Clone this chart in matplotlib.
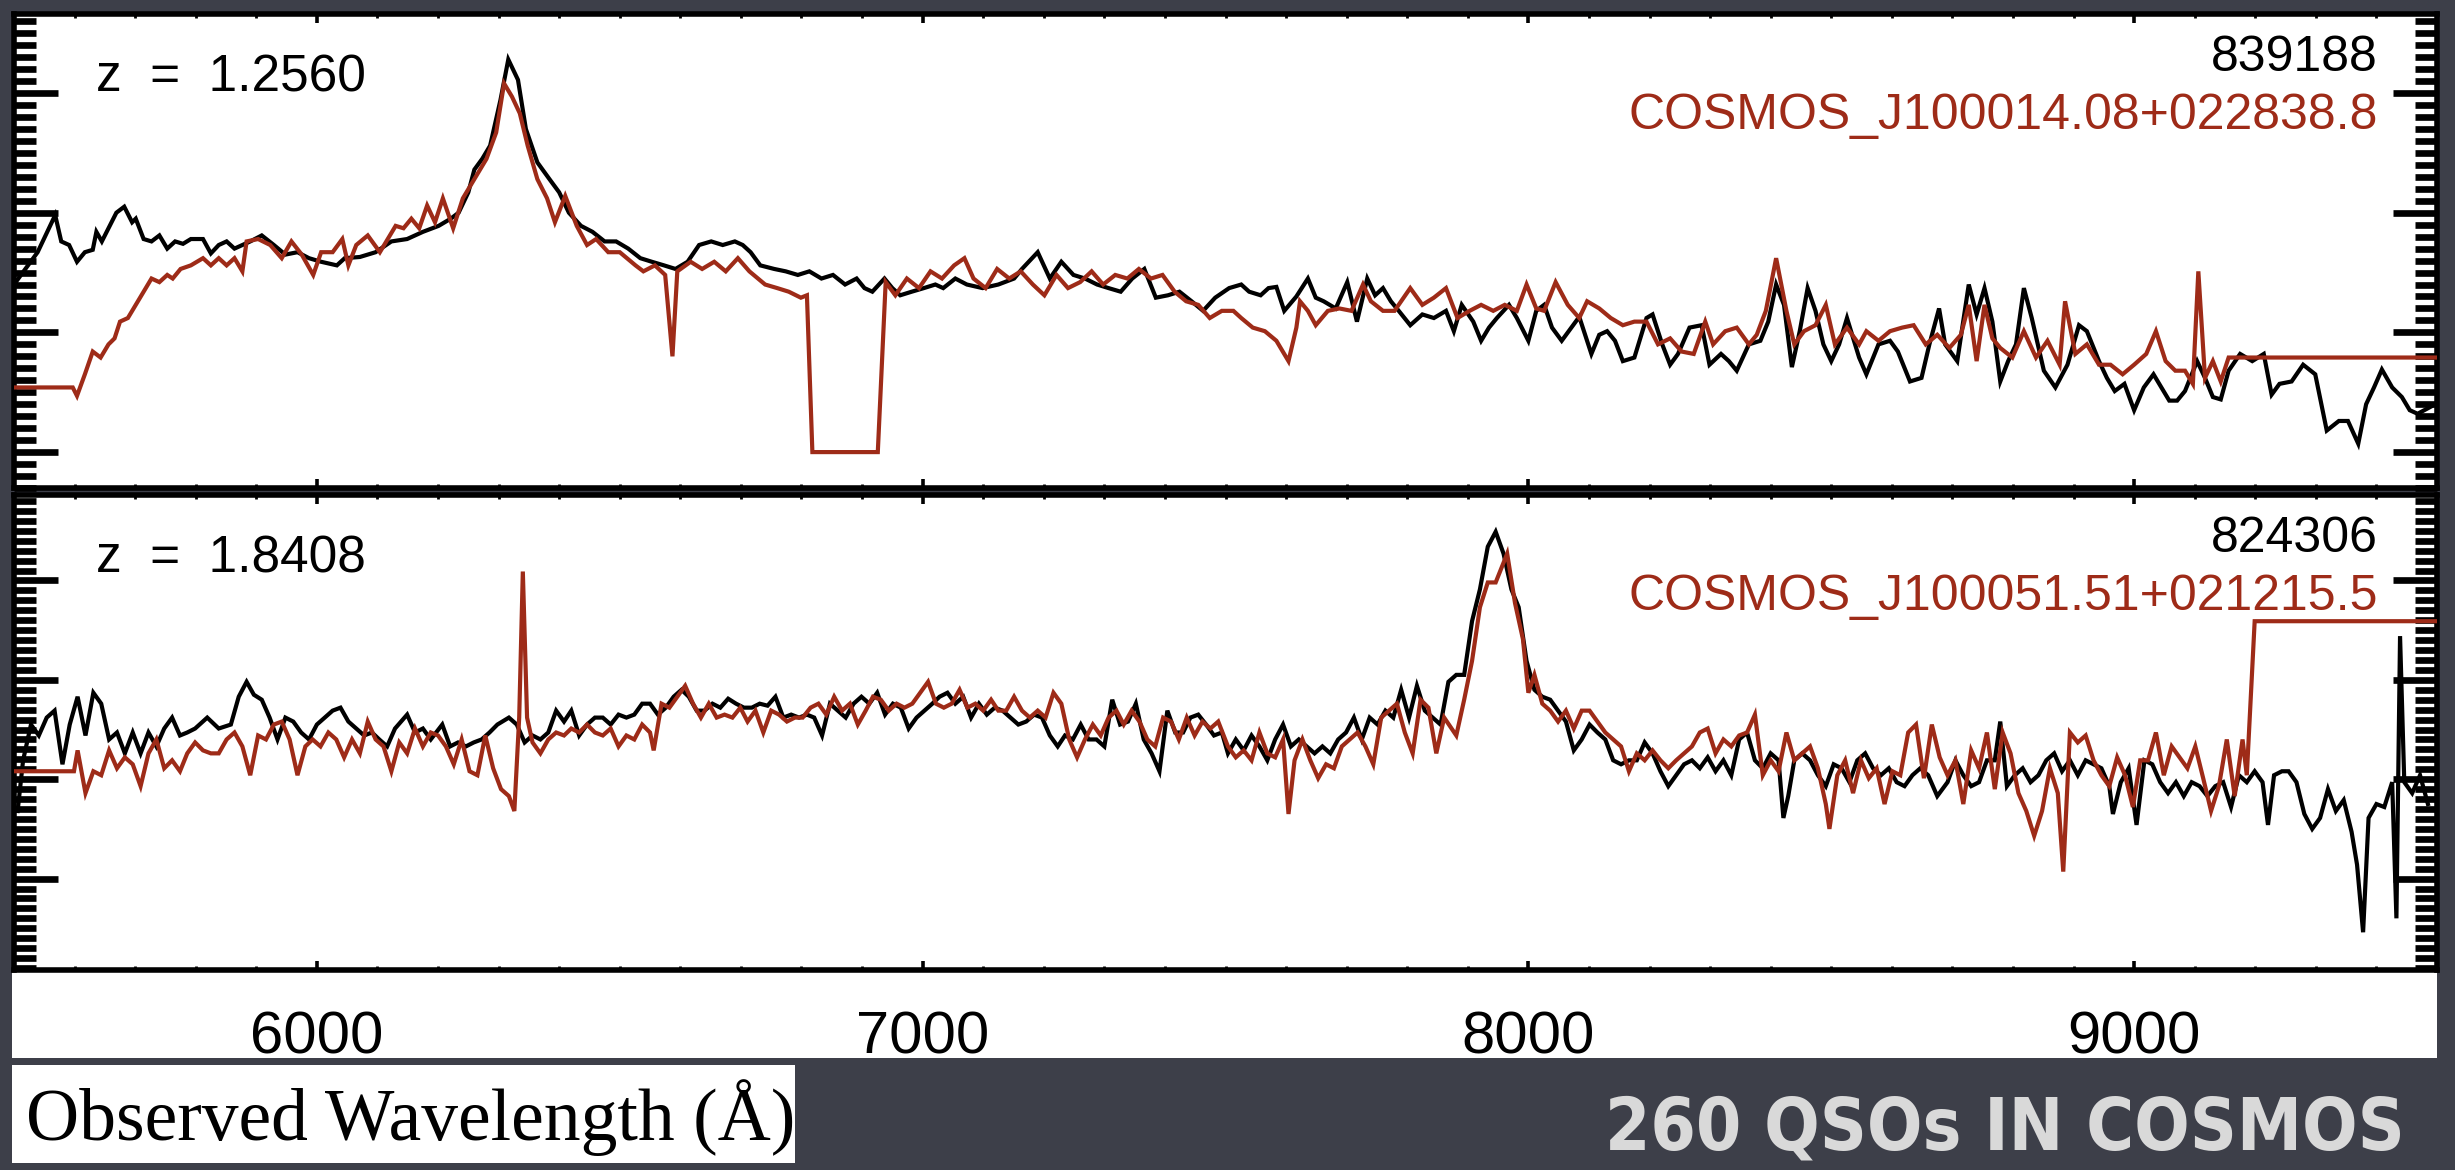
import matplotlib
matplotlib.use("Agg")
import matplotlib.pyplot as plt
from matplotlib.ticker import MultipleLocator
from matplotlib.patches import Rectangle
from matplotlib import font_manager
from matplotlib.font_manager import FontProperties

# ---------------- data (wavelength in Angstrom, flux in arbitrary units) ----------------
TOP_Z = "z  =  1.2560"
TOP_ID = "839188"
TOP_NAME = "COSMOS_J100014.08+022838.8"

TOP_BLACK_WAVE = [5500, 5539, 5568, 5578, 5591, 5604, 5617, 5630, 5636, 5645, 5656, 5669, 5682, 5695, 5701,
    5714, 5727, 5740, 5753, 5766, 5779, 5792, 5812, 5825, 5838, 5851, 5864, 5877, 5890, 5909, 5929, 5948,
    5968, 5987, 6007, 6033, 6046, 6071, 6097, 6123, 6149, 6175, 6201, 6221, 6234, 6250, 6260, 6273, 6286,
    6303, 6316, 6332, 6345, 6364, 6384, 6400, 6416, 6436, 6455, 6475, 6494, 6514, 6534, 6553, 6573, 6592,
    6612, 6631, 6651, 6670, 6690, 6703, 6716, 6732, 6755, 6774, 6794, 6813, 6833, 6852, 6872, 6891, 6904,
    6917, 6937, 6950, 6963, 6982, 7002, 7021, 7034, 7054, 7073, 7099, 7125, 7151, 7164, 7190, 7210, 7229,
    7249, 7268, 7288, 7307, 7327, 7346, 7366, 7385, 7405, 7424, 7444, 7463, 7483, 7506, 7526, 7539, 7558,
    7571, 7584, 7597, 7617, 7636, 7649, 7662, 7682, 7701, 7717, 7734, 7747, 7760, 7773, 7786, 7805, 7825,
    7844, 7864, 7877, 7890, 7909, 7922, 7935, 7948, 7968, 7981, 8000, 8013, 8026, 8039, 8055, 8071, 8084,
    8104, 8117, 8130, 8143, 8156, 8175, 8195, 8205, 8221, 8234, 8247, 8266, 8286, 8299, 8318, 8331, 8344,
    8364, 8383, 8396, 8409, 8422, 8435, 8448, 8461, 8474, 8487, 8500, 8513, 8526, 8546, 8558, 8578, 8597,
    8610, 8630, 8649, 8662, 8678, 8688, 8708, 8727, 8740, 8753, 8766, 8779, 8792, 8805, 8818, 8831, 8851,
    8870, 8890, 8909, 8922, 8942, 8955, 8968, 8984, 9000, 9016, 9032, 9045, 9058, 9071, 9084, 9104, 9117,
    9130, 9143, 9156, 9175, 9195, 9214, 9227, 9240, 9260, 9279, 9299, 9318, 9338, 9353, 9370, 9383, 9396,
    9409, 9426, 9442, 9455, 9468, 9490]
TOP_BLACK_FLUX = [1.40, 1.67, 1.98, 1.76, 1.73, 1.59, 1.67, 1.69, 1.84, 1.76, 1.87, 2.00, 2.05, 1.92, 1.95,
    1.78, 1.76, 1.81, 1.70, 1.76, 1.74, 1.78, 1.78, 1.66, 1.73, 1.76, 1.70, 1.73, 1.76, 1.81, 1.73, 1.65,
    1.67, 1.62, 1.59, 1.56, 1.62, 1.63, 1.67, 1.76, 1.78, 1.84, 1.89, 1.95, 2.00, 2.17, 2.36, 2.45, 2.56,
    2.94, 3.28, 3.11, 2.70, 2.42, 2.28, 2.17, 2.00, 1.89, 1.84, 1.76, 1.76, 1.70, 1.62, 1.59, 1.56, 1.53,
    1.59, 1.73, 1.76, 1.73, 1.76, 1.73, 1.67, 1.56, 1.53, 1.51, 1.48, 1.51, 1.45, 1.48, 1.40, 1.45, 1.37,
    1.34, 1.45, 1.37, 1.31, 1.34, 1.37, 1.40, 1.37, 1.45, 1.40, 1.37, 1.40, 1.45, 1.53, 1.67, 1.45, 1.59,
    1.48, 1.45, 1.40, 1.37, 1.34, 1.45, 1.53, 1.29, 1.31, 1.34, 1.26, 1.18, 1.29, 1.37, 1.40, 1.34, 1.31,
    1.37, 1.38, 1.18, 1.30, 1.45, 1.29, 1.26, 1.20, 1.42, 1.09, 1.45, 1.31, 1.37, 1.26, 1.18, 1.06, 1.15,
    1.12, 1.18, 1.01, 1.23, 1.09, 0.93, 1.04, 1.12, 1.23, 1.12, 0.93, 1.18, 1.23, 1.04, 0.93, 1.04, 1.13,
    0.82, 0.98, 1.01, 0.93, 0.76, 0.79, 1.12, 1.15, 0.90, 0.73, 0.82, 1.04, 1.06, 0.73, 0.82, 0.76, 0.68,
    0.90, 0.93, 1.09, 1.40, 1.23, 0.71, 1.01, 1.37, 1.18, 0.90, 0.76, 0.90, 1.12, 0.79, 0.65, 0.90, 0.93,
    0.84, 0.59, 0.62, 0.90, 1.20, 0.90, 0.76, 1.40, 1.15, 1.37, 1.09, 0.59, 0.76, 0.90, 1.37, 1.12, 0.68,
    0.54, 0.73, 1.06, 1.01, 0.76, 0.62, 0.51, 0.57, 0.35, 0.54, 0.65, 0.54, 0.43, 0.43, 0.51, 0.76, 0.62,
    0.46, 0.44, 0.68, 0.82, 0.76, 0.82, 0.48, 0.57, 0.59, 0.73, 0.65, 0.18, 0.26, 0.26, 0.07, 0.40, 0.54,
    0.69, 0.54, 0.46, 0.35, 0.32, 0.38]

TOP_RED_WAVE = [5500, 5597, 5604, 5617, 5630, 5643, 5656, 5666, 5675, 5688, 5701, 5714, 5727, 5740, 5753,
    5762, 5775, 5792, 5812, 5825, 5838, 5851, 5864, 5877, 5884, 5903, 5923, 5942, 5958, 5975, 5994, 6007,
    6026, 6042, 6052, 6065, 6084, 6104, 6117, 6130, 6143, 6156, 6169, 6182, 6195, 6208, 6225, 6241, 6260,
    6280, 6296, 6309, 6322, 6335, 6348, 6364, 6380, 6393, 6410, 6429, 6446, 6461, 6481, 6500, 6526, 6539,
    6558, 6575, 6587, 6595, 6617, 6636, 6656, 6675, 6695, 6714, 6740, 6760, 6779, 6799, 6809, 6818, 6926,
    6939, 6955, 6974, 6994, 7013, 7032, 7052, 7069, 7084, 7104, 7123, 7143, 7162, 7182, 7201, 7221, 7240,
    7260, 7279, 7298, 7318, 7338, 7357, 7377, 7396, 7416, 7435, 7455, 7474, 7494, 7513, 7526, 7545, 7565,
    7584, 7604, 7617, 7623, 7636, 7649, 7669, 7688, 7708, 7727, 7740, 7760, 7779, 7805, 7825, 7844, 7864,
    7883, 7903, 7922, 7942, 7961, 7981, 7997, 8013, 8026, 8045, 8065, 8084, 8097, 8117, 8136, 8156, 8175,
    8195, 8214, 8234, 8253, 8273, 8292, 8305, 8325, 8344, 8364, 8377, 8392, 8409, 8426, 8439, 8455, 8474,
    8491, 8506, 8526, 8546, 8558, 8578, 8597, 8617, 8636, 8656, 8675, 8695, 8714, 8727, 8740, 8753, 8766,
    8779, 8799, 8818, 8838, 8857, 8877, 8886, 8903, 8922, 8942, 8961, 8981, 9000, 9020, 9036, 9052, 9068,
    9084, 9097, 9106, 9117, 9130, 9143, 9156, 9500]
TOP_RED_FLUX = [0.54, 0.54, 0.47, 0.65, 0.84, 0.79, 0.90, 0.95, 1.09, 1.12, 1.23, 1.34, 1.45, 1.42, 1.48,
    1.45, 1.53, 1.56, 1.62, 1.56, 1.62, 1.56, 1.62, 1.51, 1.76, 1.78, 1.73, 1.62, 1.76, 1.65, 1.48, 1.67,
    1.67, 1.78, 1.56, 1.73, 1.81, 1.67, 1.78, 1.89, 1.87, 1.95, 1.87, 2.06, 1.92, 2.12, 1.87, 2.12, 2.28,
    2.45, 2.67, 3.08, 2.97, 2.83, 2.56, 2.28, 2.12, 1.92, 2.14, 1.89, 1.73, 1.78, 1.67, 1.67, 1.56, 1.51,
    1.56, 1.48, 0.80, 1.51, 1.59, 1.53, 1.59, 1.51, 1.62, 1.51, 1.40, 1.37, 1.34, 1.29, 1.31, 0.00, 0.00,
    1.42, 1.31, 1.45, 1.37, 1.51, 1.45, 1.56, 1.62, 1.45, 1.37, 1.53, 1.45, 1.51, 1.40, 1.31, 1.48, 1.37,
    1.42, 1.51, 1.40, 1.48, 1.45, 1.53, 1.45, 1.48, 1.34, 1.26, 1.23, 1.12, 1.18, 1.18, 1.12, 1.04, 1.01,
    0.93, 0.76, 1.04, 1.26, 1.18, 1.06, 1.18, 1.20, 1.18, 1.40, 1.26, 1.18, 1.18, 1.37, 1.23, 1.29, 1.37,
    1.12, 1.18, 1.23, 1.18, 1.23, 1.18, 1.40, 1.20, 1.18, 1.42, 1.23, 1.12, 1.26, 1.20, 1.12, 1.06, 1.09,
    1.09, 0.90, 0.95, 0.84, 0.82, 1.09, 0.90, 1.01, 1.04, 0.90, 0.98, 1.18, 1.62, 1.18, 0.90, 1.01, 1.06,
    1.23, 0.90, 1.04, 0.90, 1.01, 0.93, 1.01, 1.04, 1.06, 0.90, 0.98, 0.87, 0.98, 1.23, 0.76, 1.23, 0.95,
    0.87, 0.79, 1.01, 0.79, 0.93, 0.73, 1.26, 0.82, 0.90, 0.73, 0.73, 0.65, 0.73, 0.82, 1.01, 0.76, 0.68,
    0.68, 0.57, 1.51, 0.62, 0.76, 0.59, 0.79, 0.79]

BOT_Z = "z  =  1.8408"
BOT_ID = "824306"
BOT_NAME = "COSMOS_J100051.51+021215.5"

BOT_BLACK_WAVE = [5506, 5515, 5528, 5541, 5554, 5567, 5580, 5592, 5605, 5618, 5631, 5644, 5657, 5670, 5683,
    5696, 5709, 5722, 5735, 5748, 5761, 5774, 5786, 5799, 5819, 5838, 5858, 5871, 5884, 5896, 5909, 5922,
    5935, 5948, 5961, 5974, 5987, 6000, 6013, 6026, 6039, 6052, 6065, 6078, 6091, 6103, 6116, 6129, 6149,
    6162, 6175, 6188, 6207, 6220, 6233, 6246, 6259, 6272, 6285, 6298, 6317, 6330, 6343, 6356, 6369, 6382,
    6395, 6408, 6420, 6433, 6446, 6459, 6472, 6485, 6498, 6511, 6524, 6537, 6550, 6563, 6576, 6589, 6602,
    6614, 6627, 6640, 6653, 6666, 6679, 6692, 6705, 6718, 6731, 6744, 6757, 6770, 6783, 6796, 6809, 6821,
    6834, 6847, 6860, 6873, 6886, 6899, 6912, 6925, 6938, 6951, 6964, 6977, 6990, 7003, 7016, 7028, 7041,
    7054, 7067, 7080, 7093, 7106, 7119, 7132, 7145, 7158, 7171, 7184, 7197, 7210, 7223, 7235, 7248, 7261,
    7274, 7287, 7300, 7313, 7326, 7339, 7352, 7365, 7378, 7391, 7404, 7417, 7430, 7442, 7455, 7468, 7481,
    7494, 7504, 7517, 7530, 7543, 7556, 7569, 7582, 7595, 7608, 7621, 7634, 7647, 7660, 7673, 7686, 7699,
    7712, 7725, 7738, 7751, 7764, 7777, 7790, 7803, 7816, 7829, 7842, 7855, 7868, 7881, 7894, 7907, 7920,
    7933, 7946, 7959, 7972, 7984, 7997, 8010, 8023, 8036, 8049, 8062, 8075, 8088, 8101, 8114, 8127, 8140,
    8153, 8166, 8179, 8192, 8205, 8218, 8231, 8244, 8257, 8270, 8283, 8296, 8309, 8322, 8335, 8348, 8361,
    8374, 8387, 8400, 8413, 8421, 8429, 8439, 8452, 8465, 8478, 8491, 8504, 8517, 8530, 8543, 8556, 8569,
    8582, 8595, 8608, 8621, 8634, 8647, 8660, 8675, 8692, 8705, 8718, 8731, 8744, 8757, 8770, 8779, 8790,
    8803, 8816, 8829, 8842, 8855, 8868, 8881, 8894, 8907, 8920, 8933, 8946, 8959, 8965, 8978, 8991, 9004,
    9017, 9030, 9043, 9056, 9069, 9082, 9095, 9108, 9121, 9134, 9147, 9160, 9173, 9186, 9199, 9212, 9221,
    9231, 9244, 9255, 9268, 9281, 9294, 9307, 9320, 9333, 9346, 9359, 9368, 9378, 9387, 9400, 9413, 9426,
    9433, 9439, 9446, 9459, 9472, 9485]
BOT_BLACK_FLUX = [0.68, 1.19, 1.55, 1.44, 1.62, 1.69, 1.15, 1.55, 1.83, 1.44, 1.87, 1.76, 1.40, 1.47, 1.26,
    1.47, 1.26, 1.47, 1.33, 1.51, 1.62, 1.44, 1.47, 1.51, 1.62, 1.51, 1.55, 1.83, 1.98, 1.85, 1.80, 1.62,
    1.40, 1.62, 1.58, 1.47, 1.40, 1.55, 1.62, 1.69, 1.72, 1.58, 1.51, 1.44, 1.47, 1.40, 1.33, 1.51, 1.65,
    1.47, 1.51, 1.40, 1.55, 1.33, 1.37, 1.33, 1.37, 1.40, 1.47, 1.55, 1.62, 1.55, 1.37, 1.44, 1.40, 1.47,
    1.69, 1.58, 1.69, 1.44, 1.55, 1.62, 1.62, 1.55, 1.65, 1.62, 1.65, 1.76, 1.76, 1.65, 1.72, 1.83, 1.90,
    1.83, 1.69, 1.69, 1.76, 1.72, 1.81, 1.76, 1.72, 1.72, 1.76, 1.74, 1.83, 1.62, 1.65, 1.62, 1.65, 1.62,
    1.44, 1.76, 1.69, 1.62, 1.76, 1.83, 1.76, 1.87, 1.65, 1.76, 1.72, 1.51, 1.62, 1.69, 1.76, 1.83, 1.87,
    1.76, 1.83, 1.62, 1.76, 1.65, 1.72, 1.69, 1.62, 1.55, 1.58, 1.65, 1.62, 1.44, 1.33, 1.44, 1.40, 1.55,
    1.40, 1.40, 1.33, 1.80, 1.55, 1.58, 1.76, 1.40, 1.26, 1.08, 1.69, 1.47, 1.47, 1.62, 1.65, 1.55, 1.44,
    1.47, 1.26, 1.40, 1.29, 1.44, 1.33, 1.19, 1.40, 1.55, 1.33, 1.40, 1.33, 1.26, 1.33, 1.26, 1.40, 1.47,
    1.62, 1.40, 1.62, 1.55, 1.69, 1.62, 1.90, 1.62, 1.94, 1.69, 1.62, 1.55, 1.98, 2.05, 2.05, 2.59, 2.91,
    3.34, 3.49, 3.27, 2.91, 2.73, 2.19, 1.90, 1.83, 1.80, 1.69, 1.58, 1.29, 1.40, 1.55, 1.47, 1.40, 1.19,
    1.15, 1.19, 1.19, 1.37, 1.26, 1.08, 0.93, 1.04, 1.15, 1.19, 1.11, 1.22, 1.08, 1.19, 1.04, 1.40, 1.47,
    1.19, 1.11, 1.26, 1.19, 0.61, 0.83, 1.19, 1.26, 1.19, 1.04, 0.93, 1.15, 1.11, 0.97, 1.19, 1.26, 1.11,
    1.04, 1.11, 0.97, 0.93, 1.04, 1.11, 1.04, 0.83, 0.97, 1.19, 1.04, 0.93, 0.97, 1.19, 1.19, 1.58, 0.93,
    1.04, 1.11, 0.97, 1.04, 1.19, 1.26, 1.08, 1.19, 1.04, 1.19, 1.15, 1.11, 0.93, 0.65, 0.97, 1.11, 0.54,
    1.19, 1.15, 0.97, 0.86, 0.97, 0.83, 0.97, 0.93, 0.83, 0.93, 0.97, 0.72, 1.04, 0.97, 1.08, 0.97, 0.54,
    1.04, 1.08, 1.08, 0.97, 0.65, 0.50, 0.61, 0.90, 0.68, 0.79, 0.47, 0.14, -0.54, 0.61, 0.75, 0.72, 0.97,
    -0.40, 2.44, 0.97, 0.86, 1.04, 0.75]

BOT_RED_WAVE = [5500, 5599, 5605, 5618, 5631, 5644, 5657, 5670, 5683, 5696, 5709, 5722, 5735, 5748, 5761,
    5774, 5786, 5799, 5812, 5825, 5838, 5851, 5864, 5877, 5890, 5903, 5916, 5929, 5942, 5955, 5968, 5981,
    5993, 6006, 6019, 6032, 6045, 6058, 6071, 6084, 6097, 6110, 6123, 6136, 6149, 6162, 6175, 6188, 6200,
    6213, 6226, 6239, 6252, 6265, 6278, 6291, 6304, 6317, 6326, 6334, 6340, 6347, 6356, 6369, 6382, 6395,
    6408, 6420, 6433, 6446, 6459, 6472, 6485, 6498, 6511, 6524, 6537, 6550, 6556, 6569, 6582, 6595, 6608,
    6621, 6634, 6647, 6660, 6673, 6686, 6699, 6711, 6724, 6737, 6750, 6763, 6776, 6789, 6802, 6815, 6828,
    6841, 6854, 6867, 6880, 6893, 6906, 6918, 6931, 6944, 6957, 6970, 6983, 6996, 7009, 7022, 7035, 7048,
    7061, 7074, 7087, 7100, 7113, 7125, 7138, 7151, 7164, 7177, 7190, 7203, 7216, 7229, 7242, 7255, 7268,
    7281, 7294, 7307, 7320, 7332, 7345, 7358, 7371, 7384, 7397, 7410, 7423, 7436, 7449, 7462, 7475, 7488,
    7504, 7517, 7530, 7543, 7556, 7569, 7582, 7595, 7604, 7614, 7627, 7640, 7653, 7666, 7679, 7692, 7705,
    7718, 7731, 7744, 7757, 7770, 7783, 7796, 7809, 7822, 7835, 7848, 7861, 7881, 7894, 7907, 7920, 7933,
    7946, 7965, 7978, 7991, 8000, 8010, 8023, 8036, 8049, 8062, 8075, 8088, 8101, 8114, 8127, 8140, 8153,
    8166, 8179, 8192, 8205, 8218, 8231, 8244, 8257, 8270, 8283, 8296, 8309, 8322, 8335, 8348, 8361, 8374,
    8387, 8400, 8413, 8426, 8439, 8452, 8465, 8478, 8491, 8497, 8510, 8523, 8536, 8549, 8562, 8575, 8588,
    8601, 8614, 8627, 8640, 8653, 8666, 8679, 8692, 8705, 8718, 8731, 8744, 8757, 8770, 8783, 8796, 8809,
    8822, 8835, 8848, 8861, 8874, 8883, 8894, 8907, 8920, 8933, 8946, 8959, 8972, 8985, 8998, 9010, 9023,
    9036, 9049, 9062, 9075, 9088, 9101, 9114, 9127, 9140, 9153, 9166, 9179, 9186, 9199, 9500]
BOT_RED_FLUX = [1.08, 1.08, 1.29, 0.86, 1.08, 1.04, 1.29, 1.11, 1.22, 1.15, 0.93, 1.26, 1.40, 1.11, 1.19,
    1.08, 1.26, 1.37, 1.29, 1.26, 1.26, 1.40, 1.47, 1.33, 1.04, 1.44, 1.40, 1.55, 1.58, 1.40, 1.04, 1.33,
    1.40, 1.33, 1.47, 1.40, 1.22, 1.40, 1.26, 1.58, 1.40, 1.33, 1.08, 1.37, 1.26, 1.51, 1.33, 1.47, 1.44,
    1.33, 1.15, 1.40, 1.08, 1.04, 1.44, 1.11, 0.90, 0.83, 0.68, 1.62, 3.09, 1.62, 1.37, 1.26, 1.40, 1.47,
    1.44, 1.51, 1.47, 1.55, 1.47, 1.44, 1.51, 1.33, 1.44, 1.40, 1.55, 1.47, 1.29, 1.76, 1.72, 1.83, 1.94,
    1.76, 1.62, 1.76, 1.62, 1.65, 1.62, 1.72, 1.58, 1.69, 1.47, 1.69, 1.65, 1.58, 1.62, 1.62, 1.72, 1.76,
    1.65, 1.83, 1.69, 1.76, 1.55, 1.69, 1.83, 1.80, 1.69, 1.76, 1.72, 1.76, 1.87, 1.98, 1.76, 1.72, 1.76,
    1.90, 1.72, 1.76, 1.69, 1.80, 1.69, 1.69, 1.83, 1.69, 1.62, 1.69, 1.62, 1.87, 1.76, 1.40, 1.22, 1.40,
    1.55, 1.44, 1.62, 1.69, 1.55, 1.69, 1.58, 1.40, 1.33, 1.62, 1.58, 1.40, 1.62, 1.44, 1.58, 1.51, 1.58,
    1.33, 1.22, 1.29, 1.19, 1.47, 1.26, 1.22, 1.40, 0.65, 1.19, 1.40, 1.19, 1.01, 1.15, 1.11, 1.33, 1.40,
    1.47, 1.33, 1.15, 1.62, 1.69, 1.76, 1.47, 1.26, 1.80, 1.72, 1.26, 1.62, 1.44, 1.80, 2.19, 2.73, 2.98,
    2.98, 3.27, 2.77, 2.41, 1.87, 2.05, 1.76, 1.69, 1.58, 1.69, 1.51, 1.69, 1.69, 1.58, 1.47, 1.40, 1.33,
    1.08, 1.26, 1.19, 1.29, 1.19, 1.11, 1.19, 1.26, 1.33, 1.47, 1.51, 1.26, 1.40, 1.33, 1.44, 1.47, 1.65,
    1.04, 1.19, 1.08, 1.47, 1.19, 1.26, 1.33, 1.11, 0.75, 0.50, 1.04, 1.19, 0.86, 1.19, 1.01, 1.11, 0.75,
    1.08, 1.04, 1.47, 1.55, 1.01, 1.55, 1.22, 1.04, 1.19, 0.75, 1.29, 1.11, 1.47, 0.90, 1.47, 1.26, 0.86,
    0.68, 0.43, 0.68, 1.11, 0.86, 0.07, 1.47, 1.37, 1.44, 1.19, 1.04, 0.93, 1.22, 1.04, 0.72, 1.19, 1.19,
    1.47, 1.04, 1.33, 1.22, 1.11, 1.33, 1.01, 0.68, 0.93, 1.40, 0.83, 1.40, 1.04, 2.59, 2.59]

X_TICKS = [6000, 7000, 8000, 9000]
X_TICK_LABELS = ["6000", "7000", "8000", "9000"]
X_LABEL = "Observed Wavelength (\u00c5)"
TITLE = "260 QSOs IN COSMOS"

# ---------------- style ----------------
BG = "#3d3f49"
RED = "#9e2b18"
W, H = 2455, 1170
DPI = 100

ttf = font_manager.fontManager.ttflist
names = {f.name for f in ttf}
SANS = "Liberation Sans" if "Liberation Sans" in names else "DejaVu Sans"
SERIF = "Liberation Serif" if "Liberation Serif" in names else "DejaVu Serif"


def _w(f):
    w = f.weight
    if isinstance(w, str):
        return {"bold": 700, "heavy": 800, "black": 900, "semibold": 600, "demibold": 600,
                "medium": 500}.get(w.lower(), 400)
    return int(w)


def _is_narrow(f):
    if "Mono" in f.name or "Serif" in f.name:
        return False
    if "Narrow" in f.name or "Condensed" in f.name:
        return True
    return str(f.stretch) in ("condensed", "semi-condensed", "extra-condensed", "ultra-condensed")


# a condensed / narrow bold face for the slide title, if one is installed
narrow = [f for f in ttf if _is_narrow(f)
          and "Italic" not in f.fname and "Oblique" not in f.fname]
narrow.sort(key=lambda f: abs(_w(f) - 700))
if narrow:
    TITLE_FP = FontProperties(fname=narrow[0].fname)
else:
    TITLE_FP = FontProperties(family=SANS, weight="bold")

fig = plt.figure(figsize=(W / DPI, H / DPI), dpi=DPI, facecolor=BG)


def fx(px):
    return px / W


def fy(py):
    return 1 - py / H


# white strip behind the x tick labels and the axis-label box
fig.patches.append(Rectangle((fx(12), fy(1058)), fx(2437 - 12), (1058 - 960) / H,
                             transform=fig.transFigure, facecolor="white", edgecolor="none", zorder=-1))
fig.patches.append(Rectangle((fx(12), fy(1163)), fx(795 - 12), (1163 - 1065) / H,
                             transform=fig.transFigure, facecolor="white", edgecolor="none", zorder=-1))

ax_top = fig.add_axes([fx(14), fy(488), fx(2437 - 14), (488 - 14) / H])
ax_bot = fig.add_axes([fx(14), fy(970), fx(2437 - 14), (970 - 495) / H])

panels = [
    (ax_top, TOP_BLACK_WAVE, TOP_BLACK_FLUX, TOP_RED_WAVE, TOP_RED_FLUX, TOP_Z, TOP_ID, TOP_NAME, (-0.30, 3.66)),
    (ax_bot, BOT_BLACK_WAVE, BOT_BLACK_FLUX, BOT_RED_WAVE, BOT_RED_FLUX, BOT_Z, BOT_ID, BOT_NAME, (-0.92, 3.86)),
]

for ax, bw, bf, rw, rf, ztxt, idtxt, name, ylim in panels:
    ax.set_facecolor("white")
    ax.plot(bw, bf, color="black", lw=3.0, solid_joinstyle="miter", zorder=2)
    ax.plot(rw, rf, color=RED, lw=3.0, solid_joinstyle="miter", zorder=3)
    ax.set_xlim(5500, 9500)
    ax.set_ylim(*ylim)
    ax.xaxis.set_major_locator(MultipleLocator(1000))
    ax.xaxis.set_minor_locator(MultipleLocator(100))
    ax.yaxis.set_major_locator(MultipleLocator(1))
    ax.yaxis.set_minor_locator(MultipleLocator(0.1))
    ax.tick_params(which="both", direction="in", top=True, right=True, labelleft=False, labelbottom=False)
    ax.tick_params(axis="x", which="major", length=6.5, width=2.6)
    ax.tick_params(axis="x", which="minor", length=3, width=2.0)
    ax.tick_params(axis="y", which="major", length=32, width=4.8)
    ax.tick_params(axis="y", which="minor", length=16, width=4.8)
    for sp in ax.spines.values():
        sp.set_linewidth(4.0)
    ax.text(0.0338, 0.836, ztxt, transform=ax.transAxes, fontsize=37, family=SANS,
            color="black", ha="left", va="baseline")
    ax.text(0.9757, 0.879, idtxt, transform=ax.transAxes, fontsize=36, family=SANS,
            color="black", ha="right", va="baseline")
    ax.text(0.9757, 0.758, name, transform=ax.transAxes, fontsize=36, family=SANS,
            color=RED, ha="right", va="baseline")

ax_bot.set_xticks(X_TICKS)
ax_bot.set_xticklabels(X_TICK_LABELS)
ax_bot.tick_params(axis="x", which="major", labelbottom=True, labelsize=43, pad=29)
for lab in ax_bot.get_xticklabels():
    lab.set_family(SANS)

fig.text(fx(26), fy(1140), X_LABEL, fontsize=53, family=SERIF, color="black",
         ha="left", va="baseline")

# slide title, fitted to the width it occupies on the slide (about 1600..2405 px)
TITLE_FP.set_size(66)
title = fig.text(fx(2405), fy(1150), TITLE, fontproperties=TITLE_FP,
                 color="#d9d9d9", ha="right", va="baseline")
fig.canvas.draw()
tw = title.get_window_extent().width
if tw > 0:
    TITLE_FP.set_size(66 * 800.0 / tw)
    title.set_fontproperties(TITLE_FP)
    title.set_color("#d9d9d9")

fig.savefig("out.png", dpi=DPI, facecolor=BG)
